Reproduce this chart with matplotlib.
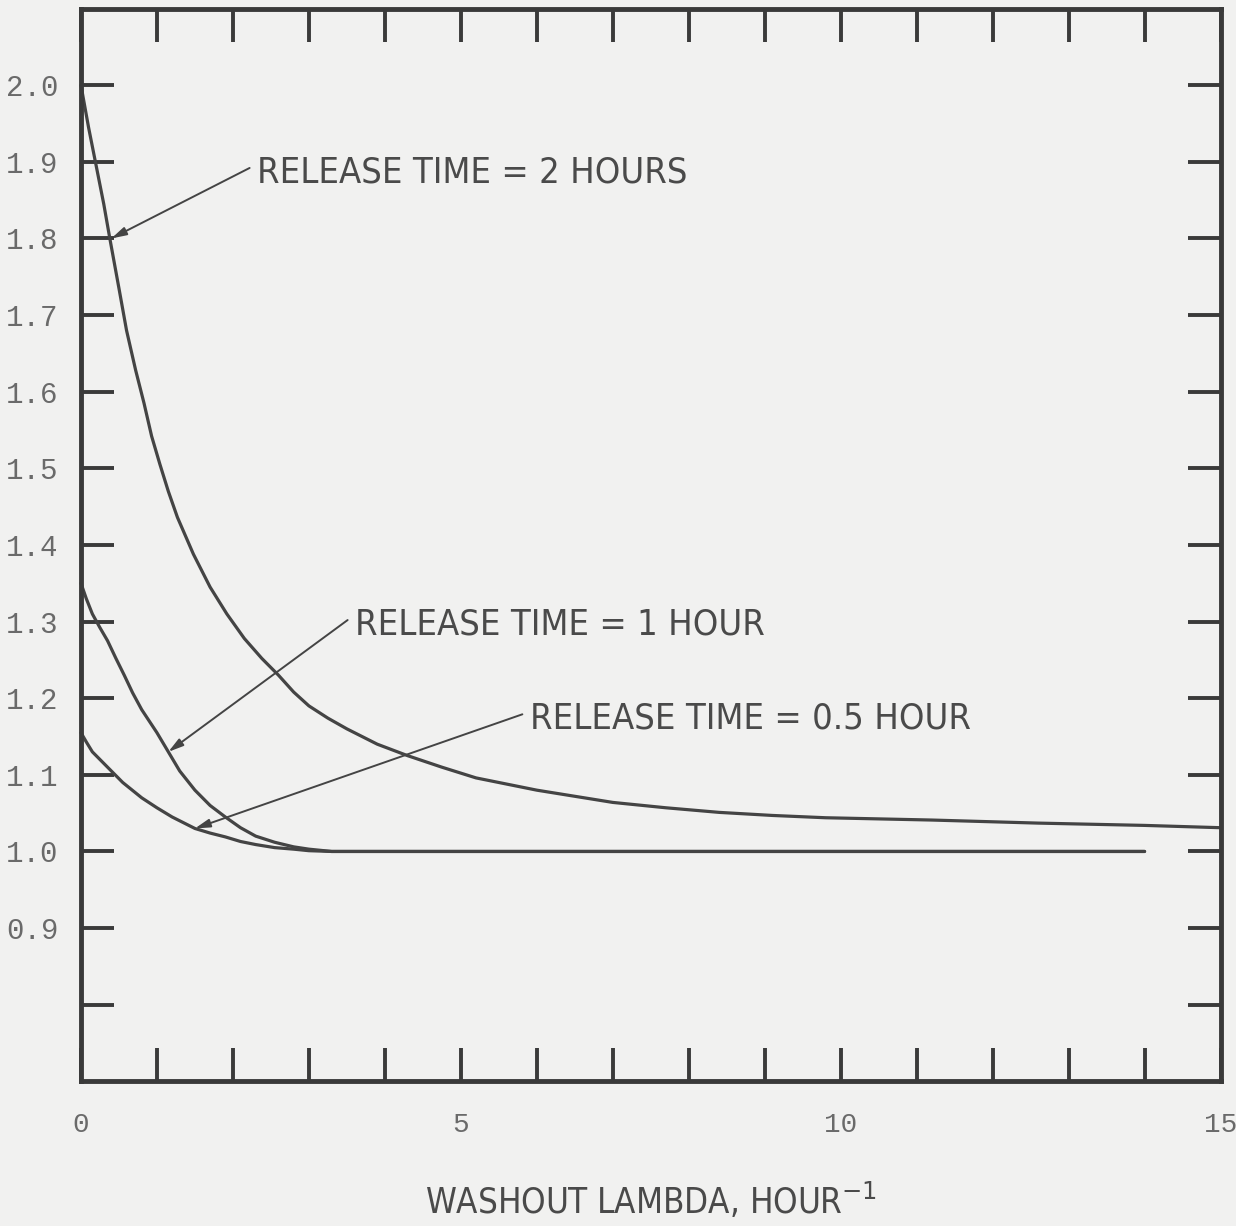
import matplotlib
matplotlib.use('Agg')
import matplotlib.pyplot as plt

# values
lam_2h = [0.0, 0.1, 0.2, 0.3, 0.38, 0.5, 0.6, 0.72, 0.83, 0.93, 1.04, 1.15, 1.27, 1.48, 1.7, 1.92,
          2.15, 2.38, 2.6, 2.8, 3.0, 3.25, 3.5, 3.9, 4.3, 4.75, 5.2, 5.6, 6.0, 6.5, 7.0, 7.7,
          8.4, 9.1, 9.8, 11.2, 12.6, 14.0, 15.0]
ratio_2h = [2.0, 1.945, 1.895, 1.845, 1.80, 1.735, 1.68, 1.628, 1.585, 1.542, 1.505, 1.47, 1.436,
            1.388, 1.345, 1.31, 1.278, 1.252, 1.23, 1.208, 1.19, 1.174, 1.16, 1.14, 1.125, 1.11,
            1.096, 1.088, 1.08, 1.072, 1.064, 1.057, 1.051, 1.047, 1.044, 1.041, 1.037, 1.034, 1.031]

lam_1h = [0.0, 0.07, 0.15, 0.25, 0.35, 0.46, 0.57, 0.68, 0.8, 1.0, 1.15, 1.3, 1.5, 1.7, 1.9,
          2.1, 2.3, 2.55, 2.8, 3.0, 3.3, 14.0]
ratio_1h = [1.35, 1.33, 1.31, 1.292, 1.275, 1.252, 1.23, 1.207, 1.185, 1.155, 1.13, 1.105, 1.08,
            1.06, 1.045, 1.031, 1.02, 1.012, 1.006, 1.003, 1.0, 1.0]

lam_05h = [0.0, 0.07, 0.15, 0.25, 0.35, 0.55, 0.8, 1.0, 1.2, 1.5, 1.7, 1.9, 2.1, 2.3, 2.55, 2.8,
           3.0, 3.3, 14.0]
ratio_05h = [1.155, 1.143, 1.13, 1.12, 1.11, 1.09, 1.07, 1.057, 1.045, 1.03, 1.024, 1.019, 1.013,
             1.009, 1.005, 1.003, 1.001, 1.0, 1.0]

x_ticks = list(range(0, 16))
x_labels = ['0', '', '', '', '', '5', '', '', '', '', '10', '', '', '', '', '15']
y_ticks = [0.8, 0.9, 1.0, 1.1, 1.2, 1.3, 1.4, 1.5, 1.6, 1.7, 1.8, 1.9, 2.0]
y_labels = ['', '0.9', '1.0', '1.1', '1.2', '1.3', '1.4', '1.5', '1.6', '1.7', '1.8', '1.9', '2.0']

# label text, text position, arrow tip
notes = [
    ('RELEASE TIME = 2 HOURS', (2.32, 1.886), (0.40, 1.80)),
    ('RELEASE TIME = 1 HOUR', (3.61, 1.296), (1.15, 1.13)),
    ('RELEASE TIME = 0.5 HOUR', (5.91, 1.173), (1.50, 1.03)),
]

ink = '#3a3a3a'
label_font = ['DejaVu Sans']
tick_font = ['Liberation Mono', 'DejaVu Sans Mono']

fig = plt.figure(figsize=(12.36, 12.26), dpi=100, facecolor='#f1f1f0')
ax = fig.add_axes([0.0655, 0.118, 0.922, 0.875])
ax.set_facecolor('#f1f1f0')

for lam, r in [(lam_2h, ratio_2h), (lam_1h, ratio_1h), (lam_05h, ratio_05h)]:
    ax.plot(lam, r, color='#444444', linewidth=2.3, solid_capstyle='round', solid_joinstyle='round',
            clip_on=False)

for txt, pos, tip in notes:
    ax.annotate('', xy=tip, xytext=(pos[0] - 0.1, pos[1] + 0.006),
                arrowprops=dict(arrowstyle='-|>,head_length=0.9,head_width=0.25',
                                color='#444444', lw=1.4, shrinkA=0, shrinkB=0))
    ax.text(pos[0], pos[1], txt, ha='left', va='center', fontsize=26,
            family=label_font, fontstretch='condensed', color='#4a4a4a')

ax.set_xlim(0.0, 15.0)
ax.set_ylim(0.70, 2.10)

ax.set_xticks(x_ticks)
ax.set_xticklabels(x_labels, family=tick_font, fontsize=20, color='#6a6a6a')
ax.set_yticks(y_ticks)
ax.set_yticklabels(y_labels, family=tick_font, fontsize=21, color='#6a6a6a')

ax.tick_params(axis='both', direction='in', length=24, width=2.8, color=ink,
               top=True, right=True)
ax.tick_params(axis='x', pad=22)
ax.tick_params(axis='y', pad=16)

for s in ax.spines.values():
    s.set_linewidth(3.5)
    s.set_color(ink)

ax.set_xlabel('WASHOUT LAMBDA, HOUR$^{-1}$', family=label_font, fontstretch='condensed',
              fontsize=25, color='#4a4a4a', labelpad=31)

plt.savefig('out.png', dpi=100, facecolor=fig.get_facecolor())
